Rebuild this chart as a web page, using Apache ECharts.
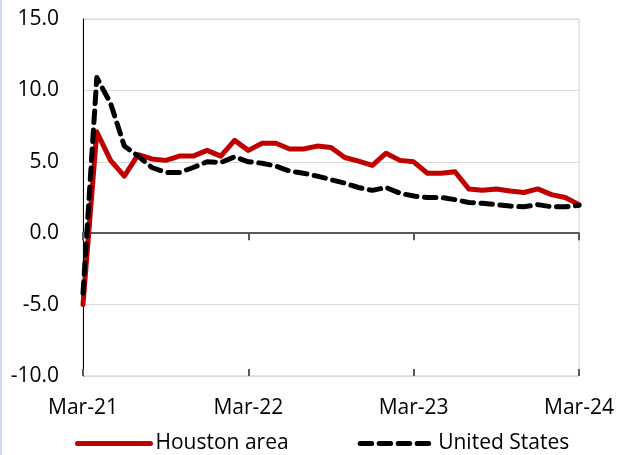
<!DOCTYPE html>
<html>
<head>
<meta charset="utf-8">
<script src="https://cdn.jsdelivr.net/npm/echarts@6/dist/echarts.min.js"></script>
<style>
  html, body { margin: 0; padding: 0; background: #fff; }
  #chart { width: 617px; height: 455px; }
</style>
</head>
<body>
<div id="chart"></div>
<script>
const months = [
  'Mar-21', 'Apr-21', 'May-21', 'Jun-21', 'Jul-21', 'Aug-21', 'Sep-21', 'Oct-21', 'Nov-21', 'Dec-21', 'Jan-22', 'Feb-22',
  'Mar-22', 'Apr-22', 'May-22', 'Jun-22', 'Jul-22', 'Aug-22', 'Sep-22', 'Oct-22', 'Nov-22', 'Dec-22', 'Jan-23', 'Feb-23',
  'Mar-23', 'Apr-23', 'May-23', 'Jun-23', 'Jul-23', 'Aug-23', 'Sep-23', 'Oct-23', 'Nov-23', 'Dec-23', 'Jan-24', 'Feb-24',
  'Mar-24'
]
const houston = [
  -5.0, 7.1, 5.1, 4.0, 5.5, 5.2, 5.1, 5.4, 5.4, 5.8, 5.4, 6.5,
  5.8, 6.3, 6.3, 5.9, 5.9, 6.1, 6.0, 5.3, 5.05, 4.75, 5.6, 5.1,
  5.0, 4.2, 4.2, 4.3, 3.1, 3.0, 3.1, 2.95, 2.85, 3.1, 2.7, 2.5,
  2.0
]
const unitedStates = [
  -4.2, 10.9, 9.1, 6.1, 5.4, 4.6, 4.25, 4.25, 4.6, 5.0, 4.95, 5.35,
  5.0, 4.9, 4.7, 4.35, 4.2, 4.0, 3.75, 3.5, 3.2, 3.0, 3.2, 2.8,
  2.6, 2.5, 2.5, 2.35, 2.15, 2.1, 2.0, 1.9, 1.85, 2.0, 1.85, 1.85,
  1.95
]
const seriesNames = ['Houston area', 'United States']

const font = 'Open Sans'
const fontSize = 21

const chart = echarts.init(document.getElementById('chart'))

// the same month axis three times: labels at the bottom, line + ticks on zero
const baseX = {
  type: 'category',
  data: months,
  boundaryGap: false,
  gridIndex: 0
}

chart.setOption({
  animation: false,
  textStyle: { fontFamily: font },
  graphic: [{
    type: 'rect',
    left: 0, top: 0,
    shape: { width: 2, height: 455 },
    style: { fill: '#cddaf0' }
  }],
  grid: {
    left: 83, right: 38, top: 19, bottom: 79,
    show: true,
    borderColor: '#d0d0d0',
    borderWidth: 1
  },
  legend: {
    data: seriesNames,
    left: 75,
    top: 433,
    padding: 0,
    itemWidth: 73,
    itemHeight: 20,
    itemGap: 69,
    itemStyle: { opacity: 0 },
    lineStyle: { width: 5, cap: 'round' },
    textStyle: { fontFamily: font, fontSize: fontSize, color: '#000' }
  },
  xAxis: [
    Object.assign({}, baseX, {
      position: 'bottom',
      axisLine: { show: false, onZero: false },
      axisTick: { show: false },
      axisLabel: {
        interval: 11, margin: 22,
        fontFamily: font, fontSize: fontSize, color: '#000'
      }
    }),
    Object.assign({}, baseX, {
      position: 'bottom',
      axisLine: { show: true, onZero: true, lineStyle: { color: '#595959', width: 2 } },
      axisTick: { show: true, interval: 11, length: 7, lineStyle: { color: '#595959', width: 2 } },
      axisLabel: { show: false }
    }),
    Object.assign({}, baseX, {
      position: 'bottom',
      axisLine: { show: false, onZero: true },
      axisTick: { show: true, inside: true, interval: 11, length: 7, lineStyle: { color: '#595959', width: 2 } },
      axisLabel: { show: false }
    })
  ],
  yAxis: {
    type: 'value',
    min: -10, max: 15, interval: 5,
    axisLine: { show: true, lineStyle: { color: '#000', width: 1 } },
    axisTick: { show: false },
    splitLine: { lineStyle: { color: '#d9d9d9', width: 1 } },
    axisLabel: {
      margin: 24,
      fontFamily: font, fontSize: fontSize, color: '#000',
      formatter: v => v.toFixed(1)
    }
  },
  series: [
    {
      name: seriesNames[0],
      type: 'line',
      data: houston,
      symbol: 'none',
      lineStyle: { color: '#c00000', width: 5, cap: 'round', join: 'round' },
      itemStyle: { color: '#c00000' }
    },
    {
      name: seriesNames[1],
      type: 'line',
      data: unitedStates,
      symbol: 'none',
      lineStyle: { color: '#000', width: 5, type: [11.5, 7.5], cap: 'round', join: 'round' },
      itemStyle: { color: '#000' }
    }
  ]
})
</script>
</body>
</html>
